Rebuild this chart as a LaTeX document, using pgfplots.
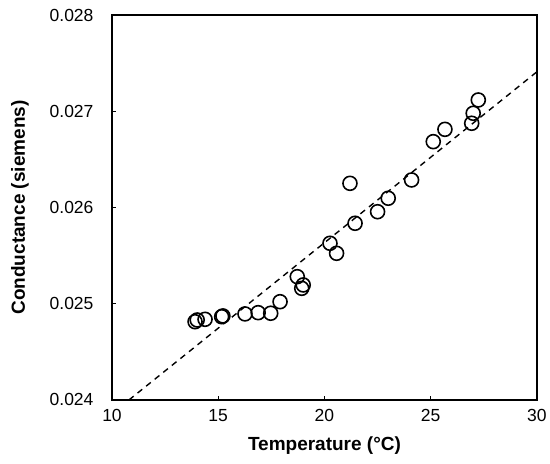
\documentclass[border=0pt]{standalone}
\usepackage{fontspec}
\setmainfont{Liberation Sans}
\usepackage{pgfplots}
\pgfplotsset{compat=1.18}
\begin{document}
\begin{tikzpicture}[x=1pt,y=1pt]
\path (0,0) rectangle (550,464);
\begin{axis}[
  at={(112pt,64pt)}, anchor=south west,
  width=425pt, height=385pt, scale only axis,
  xmin=10, xmax=30, ymin=0.024, ymax=0.028,
  xtick={10,15,20,25,30}, ytick={0.024,0.025,0.026,0.027,0.028},
  tick align=inside, tickpos=left, major tick length=4pt,
  tick style={line width=1.2pt, black},
  axis line style={line width=2pt},
  scaled y ticks=false,
  /pgf/number format/assume math mode=true,
  yticklabel style={/pgf/number format/.cd, fixed, fixed zerofill, precision=3, /tikz/.cd, xshift=-15pt},
  xticklabel style={yshift=-6pt},
  ticklabel style={font=\fontsize{17.5}{20}\selectfont},
  xlabel={Temperature (°C)},
  ylabel={Conductance (siemens)},
  label style={font=\fontsize{19}{22}\selectfont\bfseries},
  xlabel style={at={(axis description cs:0.5,-0.119)}, anchor=center},
  ylabel style={at={(axis description cs:-0.2165,0.5)}, anchor=center, rotate=0},
  clip=false,
]
\addplot[black, line width=1.4pt, dash pattern=on 6pt off 5pt] coordinates {(10.8,0.024) (30,0.02741)};
\addplot[only marks, mark=o, mark size=7pt, mark options={line width=1.6pt, black}] coordinates {
(13.91,0.024813) (14.01,0.024831) (14.38,0.024838) (15.16,0.024865) (15.22,0.024873)
(16.26,0.024894) (16.88,0.024907) (17.47,0.024901) (17.91,0.025021) (18.72,0.025281)
(19.00,0.025195) (18.93,0.025160) (20.26,0.025628) (20.57,0.025524) (21.2,0.026251)
(21.44,0.025836) (22.5,0.025956) (23.0,0.026096) (24.1,0.026286) (25.12,0.026684)
(25.67,0.026812) (26.93,0.026875) (27.0,0.026979) (27.24,0.027117)
};
\end{axis}
\end{tikzpicture}
\end{document}
